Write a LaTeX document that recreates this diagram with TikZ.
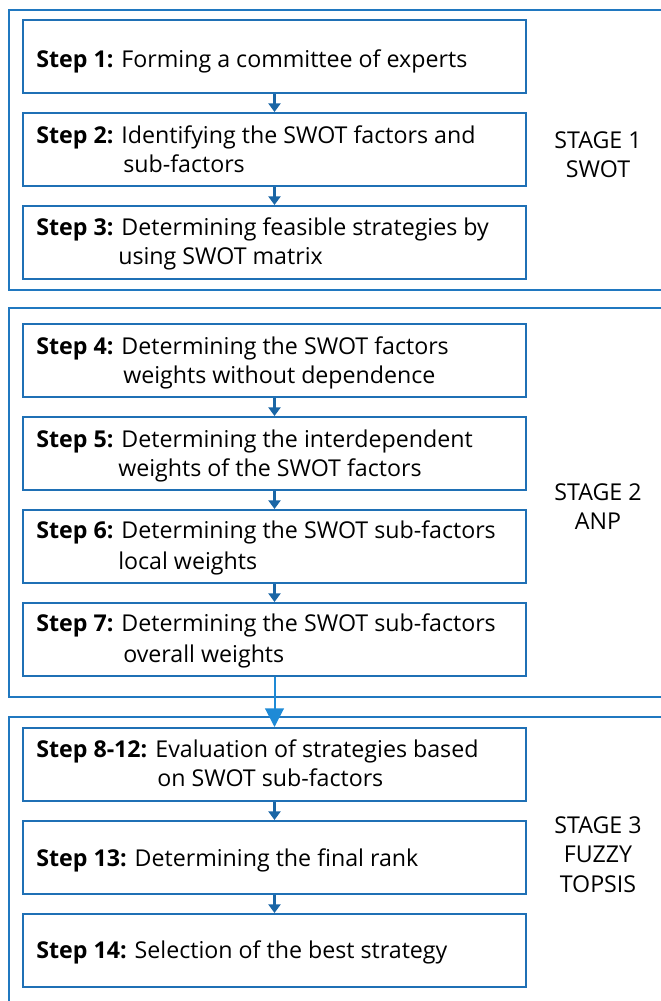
\documentclass[tikz,border=0pt]{standalone}
\usepackage{fontspec}
\setmainfont{Open Sans}
\usetikzlibrary{arrows.meta}
\definecolor{boxblue}{HTML}{1F70B5}
\definecolor{stageblue}{HTML}{2078C0}
\definecolor{arrblue}{HTML}{1A66A6}
\definecolor{bigblue}{HTML}{1E8AD6}
\tikzset{
  stepbox/.style={draw=boxblue, line width=1.5pt, minimum width=503*0.75pt, minimum height=73*0.75pt, inner sep=0pt},
  stagebox/.style={draw=stageblue, line width=1.5pt},
  txt/.style={anchor=base west, inner sep=0pt, font=\fontsize{17.4pt}{21pt}\selectfont},
  stagetxt/.style={anchor=base, inner sep=0pt, font=\fontsize{17.4pt}{21pt}\selectfont},
  smallarr/.style={draw=arrblue, line width=1.7pt, -{Triangle[length=6.5pt,width=9pt]}},
  bigarr/.style={draw=bigblue, line width=1.5pt, -{Triangle[length=14pt,width=14pt]}}
}
\begin{document}
\begin{tikzpicture}[x=0.75pt,y=-0.75pt]
\useasboundingbox (0,0) rectangle (661,1001);
% stage frames
\draw[stagebox] (700,10) -- (9,10) -- (9,290) -- (700,290);
\draw[stagebox] (700,308) -- (9,308) -- (9,697) -- (700,697);
\draw[stagebox] (700,717) -- (9,717) -- (9,1010);
% step boxes
\node[stepbox] (s1) at (274.5,56.5) {};
\node[stepbox] (s2) at (274.5,149.5) {};
\node[stepbox] (s3) at (274.5,242.5) {};
\node[stepbox] (s4) at (274.5,360.5) {};
\node[stepbox] (s5) at (274.5,453.5) {};
\node[stepbox] (s6) at (274.5,546.5) {};
\node[stepbox] (s7) at (274.5,639.5) {};
\node[stepbox] (s8) at (274.5,764.5) {};
\node[stepbox] (s13) at (274.5,857.5) {};
\node[stepbox] (s14) at (274.5,950.5) {};
% texts
\node[txt] (t1) at (36,67) {\textbf{Step 1:} Forming a committee of experts};
\node[txt] (t2a) at (36,143) {\textbf{Step 2:} Identifying the SWOT factors and};
\node[txt] (t2b) at (123,172) {sub-factors};
\node[txt] (t3a) at (36,235) {\textbf{Step 3:} Determining feasible strategies by};
\node[txt] (t3b) at (118,264) {using SWOT matrix};
\node[txt] (t4a) at (36,354) {\textbf{Step 4:} Determining the SWOT factors};
\node[txt] (t4b) at (123,383) {weights without dependence};
\node[txt] (t5a) at (36,447) {\textbf{Step 5:} Determining the interdependent};
\node[txt] (t5b) at (118,476) {weights of the SWOT factors};
\node[txt] (t6a) at (36,538) {\textbf{Step 6:} Determining the SWOT sub-factors};
\node[txt] (t6b) at (118,569) {local weights};
\node[txt] (t7a) at (36,631) {\textbf{Step 7:} Determining the SWOT sub-factors};
\node[txt] (t7b) at (123,662) {overall weights};
\node[txt] (t8a) at (36,757) {\textbf{Step 8-12:} Evaluation of strategies based};
\node[txt] (t8b) at (157,786) {on SWOT sub-factors};
\node[txt] (t13) at (36,866) {\textbf{Step 13:} Determining the final rank};
\node[txt] (t14) at (36,958) {\textbf{Step 14:} Selection of the best strategy};
% stage labels
\node[stagetxt] (g1a) at (598,148) {STAGE 1};
\node[stagetxt] (g1b) at (598,177) {SWOT};
\node[stagetxt] (g2a) at (598,500) {STAGE 2};
\node[stagetxt] (g2b) at (598,529) {ANP};
\node[stagetxt] (g3a) at (598,833) {STAGE 3};
\node[stagetxt] (g3b) at (598,862) {FUZZY};
\node[stagetxt] (g3c) at (598,892) {TOPSIS};
% arrows
\draw[smallarr] (s1) -- (s2);
\draw[smallarr] (s2) -- (s3);
\draw[smallarr] (s4) -- (s5);
\draw[smallarr] (s5) -- (s6);
\draw[smallarr] (s6) -- (s7);
\draw[bigarr] (s7) -- (s8);
\draw[smallarr] (s8) -- (s13);
\draw[smallarr] (s13) -- (s14);
\end{tikzpicture}
\end{document}
